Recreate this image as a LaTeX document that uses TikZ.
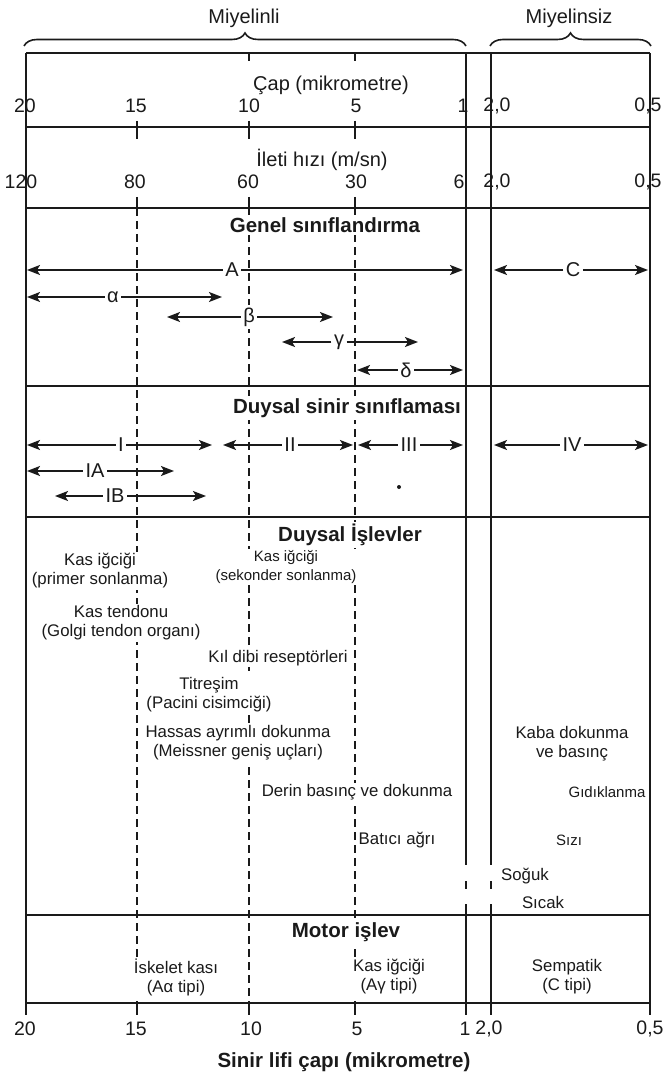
\documentclass[tikz,border=0pt]{standalone}
\usepackage{fontspec}
\setmainfont{Liberation Sans}
\usepackage{tikz}
\usetikzlibrary{
  arrows.meta,
  positioning,
  decorations.pathreplacing
}
\definecolor{nfInk}{HTML}{1A1A1A}
\tikzset{
  nfframe/.style={draw=nfInk, line width=2pt},
  nfrule/.style={draw=nfInk, line width=1.8pt},
  nfdash/.style={draw=nfInk, line width=1.6pt, dash pattern=on 8pt off 5pt},
  nfnum/.style={font=\fontsize{19.5}{21}\selectfont, text=nfInk, inner sep=0pt},
  nfaxis/.style={font=\fontsize{20}{22}\selectfont, text=nfInk, inner sep=1pt},
  nfhead/.style={font=\bfseries\fontsize{20.5}{22}\selectfont, text=nfInk, fill=white, inner sep=2pt},
  nftext/.style={font=\fontsize{16.8}{19}\selectfont, text=nfInk, fill=white, inner sep=1.5pt, align=center},
  nfsmall/.style={nftext, font=\fontsize{15}{19}\selectfont},
  nfmark/.style={font=\fontsize{20}{22}\selectfont, text=nfInk, fill=white, inner sep=2.5pt},
  nfrange/.style={draw=nfInk, line width=1.7pt, -{Stealth[length=13pt, width=10pt, inset=3pt]}},
  nfbrace/.style={draw=nfInk, line width=1.6pt, decorate, decoration={brace, amplitude=13pt}}
}

\begin{document}
\begin{tikzpicture}[x=1pt, y=-1pt]
  \useasboundingbox (0,0) rectangle (665,1075);

  % frame and row rules
  \draw[nfframe] (26,53) -- (650,53);
  \draw[nfframe] (26,53) -- (26,1015);
  \draw[nfframe] (650,53) -- (650,1015);
  \draw[nfrule] (26,127) -- (650,127);
  \draw[nfrule] (26,208) -- (650,208);
  \draw[nfrule] (26,386) -- (650,386);
  \draw[nfrule] (26,517) -- (650,517);
  \draw[nfrule] (26,915) -- (650,915);
  \draw[nfframe] (26,1003) -- (650,1003);

  % myelinated / unmyelinated limits
  \draw[nfrule] (466,53) -- (466,865);
  \draw[nfrule] (466,881) -- (466,889);
  \draw[nfrule] (466,904) -- (466,1015);
  \draw[nfrule] (491,53) -- (491,865);
  \draw[nfrule] (491,881) -- (491,889);
  \draw[nfrule] (491,904) -- (491,1015);

  % dashed guides at 15, 10 and 5 um, with their ticks
  \draw[nfdash] (137,208) -- (137,1003);
  \draw[nfdash] (249,208) -- (249,1003);
  \draw[nfdash] (355,208) -- (355,1003);
  \draw[nfrule] (137,121) -- (137,139);
  \draw[nfrule] (249,121) -- (249,139);
  \draw[nfrule] (355,121) -- (355,139);
  \draw[nfrule] (137,197) -- (137,208);
  \draw[nfrule] (249,197) -- (249,208);
  \draw[nfrule] (355,197) -- (355,208);
  \draw[nfrule] (249,53) -- (249,61);
  \draw[nfrule] (355,53) -- (355,61);
  \draw[nfrule] (137,1003) -- (137,1015);
  \draw[nfrule] (249,1003) -- (249,1015);
  \draw[nfrule] (355,1003) -- (355,1015);

  % braces
  \draw[nfbrace] (24,46) -- (466,46);
  \draw[nfbrace] (490,46) -- (651,46);
  \node[nfaxis] (myel) at (244,18) {Miyelinli};
  \node[nfaxis] (unmyel) at (569,18) {Miyelinsiz};

  % diameter and velocity scales
  \node[nfaxis] (diamTitle) at (331,85) {Çap (mikrometre)};
  \node[nfnum] (d20) at (25,106) {20};
  \node[nfnum] (d15) at (136,106) {15};
  \node[nfnum] (d10) at (249,106) {10};
  \node[nfnum] (d5) at (356,106) {5};
  \node[nfnum] (d1) at (463,106) {1};
  \node[nfnum] (d2) at (497,106) {2,0};
  \node[nfnum] (d05) at (648,106) {0,5};
  \node[nfaxis] (velTitle) at (322,160) {İleti hızı (m/sn)};
  \node[nfnum] (v120) at (21,182) {120};
  \node[nfnum] (v80) at (135,182) {80};
  \node[nfnum] (v60) at (248,182) {60};
  \node[nfnum] (v30) at (356,182) {30};
  \node[nfnum] (v6) at (459,182) {6};
  \node[nfnum] (v2) at (497,182) {2,0};
  \node[nfnum] (v05) at (648,182) {0,5};

  % section headings
  \node[nfhead] (genHd) at (325,225) {Genel sınıflandırma};
  \node[nfhead] (sensHd) at (347,408) {Duysal sinir sınıflaması};
  \node[nfhead] (funcHd) at (350,535) {Duysal İşlevler};
  \node[nfhead] (motorHd) at (346,932) {Motor işlev};

  % general classification
  \node[nfmark] (lblA) at (232,270) {A};
  \coordinate (endAl) at (27,270);
  \coordinate (endAr) at (463,270);
  \draw[nfrange] (lblA) -- (endAl);
  \draw[nfrange] (lblA) -- (endAr);
  \node[nfmark] (lblC) at (573,270) {C};
  \coordinate (endCl) at (494,270);
  \coordinate (endCr) at (648,270);
  \draw[nfrange] (lblC) -- (endCl);
  \draw[nfrange] (lblC) -- (endCr);
  \node[nfmark] (lblAlpha) at (113,297) {α};
  \coordinate (endAlphal) at (27,297);
  \coordinate (endAlphar) at (222,297);
  \draw[nfrange] (lblAlpha) -- (endAlphal);
  \draw[nfrange] (lblAlpha) -- (endAlphar);
  \node[nfmark] (lblBeta) at (249,317) {β};
  \coordinate (endBetal) at (167,317);
  \coordinate (endBetar) at (333,317);
  \draw[nfrange] (lblBeta) -- (endBetal);
  \draw[nfrange] (lblBeta) -- (endBetar);
  \node[nfmark] (lblGamma) at (339,342) {γ};
  \coordinate (endGammal) at (282,342);
  \coordinate (endGammar) at (418,342);
  \draw[nfrange] (lblGamma) -- (endGammal);
  \draw[nfrange] (lblGamma) -- (endGammar);
  \node[nfmark] (lblDelta) at (406,370) {δ};
  \coordinate (endDeltal) at (357,370);
  \coordinate (endDeltar) at (463,370);
  \draw[nfrange] (lblDelta) -- (endDeltal);
  \draw[nfrange] (lblDelta) -- (endDeltar);

  % sensory nerve classification
  \node[nfmark] (lblI) at (121,445) {I};
  \coordinate (endIl) at (27,445);
  \coordinate (endIr) at (212,445);
  \draw[nfrange] (lblI) -- (endIl);
  \draw[nfrange] (lblI) -- (endIr);
  \node[nfmark] (lblII) at (290,445) {II};
  \coordinate (endIIl) at (223,445);
  \coordinate (endIIr) at (353,445);
  \draw[nfrange] (lblII) -- (endIIl);
  \draw[nfrange] (lblII) -- (endIIr);
  \node[nfmark] (lblIII) at (409,445) {III};
  \coordinate (endIIIl) at (358,445);
  \coordinate (endIIIr) at (463,445);
  \draw[nfrange] (lblIII) -- (endIIIl);
  \draw[nfrange] (lblIII) -- (endIIIr);
  \node[nfmark] (lblIV) at (572,445) {IV};
  \coordinate (endIVl) at (494,445);
  \coordinate (endIVr) at (648,445);
  \draw[nfrange] (lblIV) -- (endIVl);
  \draw[nfrange] (lblIV) -- (endIVr);
  \node[nfmark] (lblIA) at (95,471) {IA};
  \coordinate (endIAl) at (27,471);
  \coordinate (endIAr) at (174,471);
  \draw[nfrange] (lblIA) -- (endIAl);
  \draw[nfrange] (lblIA) -- (endIAr);
  \node[nfmark] (lblIB) at (115,496) {IB};
  \coordinate (endIBl) at (55,496);
  \coordinate (endIBr) at (206,496);
  \draw[nfrange] (lblIB) -- (endIBl);
  \draw[nfrange] (lblIB) -- (endIBr);
  \fill[nfInk] (399,487) circle (2pt);

  % sensory functions
  \node[nftext] (spPrim) at (100,571) {Kas iğciği\\(primer sonlanma)};
  \node[nfsmall] (spSek) at (286,567) {Kas iğciği\\(sekonder sonlanma)};
  \node[nftext] (golgi) at (121,623) {Kas tendonu\\(Golgi tendon organı)};
  \node[nftext] (hair) at (278,658) {Kıl dibi reseptörleri};
  \node[nftext] (pacini) at (209,695) {Titreşim\\(Pacini cisimciği)};
  \node[nftext] (meiss) at (238,743) {Hassas ayrımlı dokunma\\(Meissner geniş uçları)};
  \node[nftext] (crude) at (572,744) {Kaba dokunma\\ve basınç};
  \node[nftext] (deep) at (357,792) {Derin basınç ve dokunma};
  \node[nfsmall] (tickle) at (607,792) {Gıdıklanma};
  \node[nftext, anchor=west] (sharp) at (357,840) {Batıcı ağrı};
  \node[nfsmall] (ache) at (569,840) {Sızı};
  \node[nftext] (cold) at (525,876) {Soğuk};
  \node[nftext] (warm) at (543,902) {Sıcak};

  % motor function
  \node[nftext] (skel) at (176,977) {İskelet kası\\(Aα tipi)};
  \node[nftext] (fusim) at (389,977) {Kas iğciği\\(Aγ tipi)};
  \node[nftext] (symp) at (567,977) {Sempatik\\(C tipi)};

  % bottom axis
  \node[nfnum] (b20) at (25,1029) {20};
  \node[nfnum] (b15) at (136,1029) {15};
  \node[nfnum] (b10) at (251,1029) {10};
  \node[nfnum] (b5) at (357,1029) {5};
  \node[nfnum] (b1) at (465,1029) {1};
  \node[nfnum] (b2) at (489,1029) {2,0};
  \node[nfnum] (b05) at (650,1029) {0,5};
  \node[nfhead, fill=none] (axisTitle) at (344,1062) {Sinir lifi çapı (mikrometre)};
\end{tikzpicture}
\end{document}
